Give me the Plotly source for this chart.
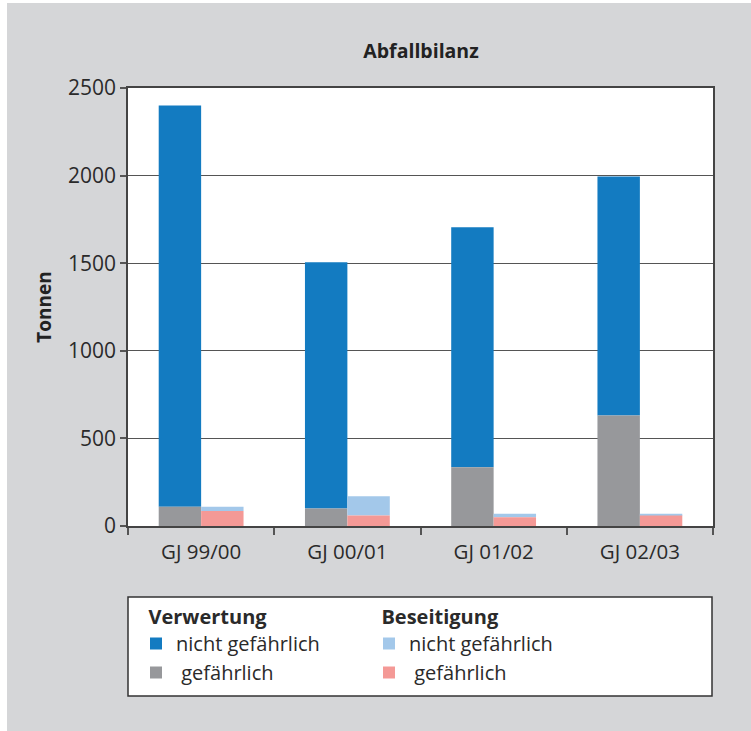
import plotly.graph_objects as go

categories = ["GJ 99/00", "GJ 00/01", "GJ 01/02", "GJ 02/03"]
verw_gef = [110, 100, 335, 630]
verw_nicht = [2290, 1405, 1370, 1365]
bes_gef = [85, 60, 50, 60]
bes_nicht = [25, 110, 20, 10]

C_BLUE = "#137bc1"
C_GRAY = "#97989b"
C_LBLUE = "#a3c8ea"
C_PINK = "#f49996"
BG = "#d5d6d8"
FONT = "Open Sans"

W = 0.29
fig = go.Figure()
fig.add_bar(x=categories, y=verw_nicht, base=verw_gef, width=W, offset=-W,
            marker=dict(color=C_BLUE, line=dict(width=0)),
            name="nicht gefährlich", legend="legend", legendrank=1)
fig.add_bar(x=categories, y=verw_gef, base=[0]*4, width=W, offset=-W,
            marker=dict(color=C_GRAY, line=dict(width=0)),
            name=" gefährlich", legend="legend", legendrank=2)
fig.add_bar(x=categories, y=bes_nicht, base=bes_gef, width=W, offset=0,
            marker=dict(color=C_LBLUE, line=dict(width=0)),
            name="nicht gefährlich", legend="legend2", legendrank=1)
fig.add_bar(x=categories, y=bes_gef, base=[0]*4, width=W, offset=0,
            marker=dict(color=C_PINK, line=dict(width=0)),
            name=" gefährlich", legend="legend2", legendrank=2)

L, R, T, B = 128, 38, 88, 205
PW, PH = 751 - L - R, 731 - T - B

def px(xp):
    return (xp - L) / PW

def py(yp):
    return (731 - B - yp) / PH

legend_common = dict(
    font=dict(family=FONT, size=20, color="#2a2a2a"),
    bgcolor="rgba(0,0,0,0)", borderwidth=0,
    orientation="v", yanchor="top", xanchor="left",
    traceorder="normal", itemclick=False, itemdoubleclick=False,
    tracegroupgap=0,
)

fig.update_layout(
    width=751, height=731,
    margin=dict(l=L, r=R, t=T, b=B),
    paper_bgcolor=BG, plot_bgcolor="white",
    barmode="overlay",
    font=dict(family=FONT, size=20, color="#2a2a2a"),
    title=dict(text="<b>Abfallbilanz</b>", xref="container", x=421 / 751, xanchor="center",
               yref="container", y=1 - 51 / 731, yanchor="middle",
               font=dict(family=FONT, size=19.5, color="#222222")),
    xaxis=dict(
        type="category", showgrid=False, ticks="outside", tickson="boundaries",
        ticklen=7, tickcolor="#555555", tickwidth=1.5,
        showline=True, linecolor="#444444", linewidth=1.5, mirror=True,
        ticklabelstandoff=7,
        tickfont=dict(family=FONT, size=20.5, color="#2a2a2a"),
    ),
    yaxis=dict(
        range=[0, 2500], dtick=500, showgrid=True, gridcolor="#555555", gridwidth=1,
        ticks="outside", ticklen=6, tickcolor="#555555", tickwidth=1.5,
        showline=True, linecolor="#444444", linewidth=1.5, mirror=True,
        zeroline=False,
        tickfont=dict(family=FONT, size=21, color="#2a2a2a"),
        title=dict(text="<b>Tonnen</b>", standoff=11,
                   font=dict(family=FONT, size=19, color="#222222")),
    ),
    legend=dict(x=px(136), y=py(598),
                title=dict(text="<b>  Verwertung</b>", side="top",
                           font=dict(family=FONT, size=20, color="#2a2a2a")),
                **legend_common),
    legend2=dict(x=px(369), y=py(598),
                 title=dict(text="<b>  Beseitigung</b>", side="top",
                            font=dict(family=FONT, size=20, color="#2a2a2a")),
                 **legend_common),
    shapes=[
        dict(type="rect", xref="paper", yref="paper",
             x0=px(128), x1=px(712), y0=py(696), y1=py(597),
             fillcolor="white", line=dict(color="#333333", width=1.5), layer="below"),
        dict(type="rect", xref="paper", yref="paper",
             x0=px(0), x1=px(7), y0=py(731), y1=py(0),
             fillcolor="white", line=dict(width=0), layer="below"),
        dict(type="rect", xref="paper", yref="paper",
             x0=px(0), x1=px(751), y0=py(3), y1=py(0),
             fillcolor="white", line=dict(width=0), layer="below"),
    ],
    showlegend=True,
)

fig.write_html("out.html")
